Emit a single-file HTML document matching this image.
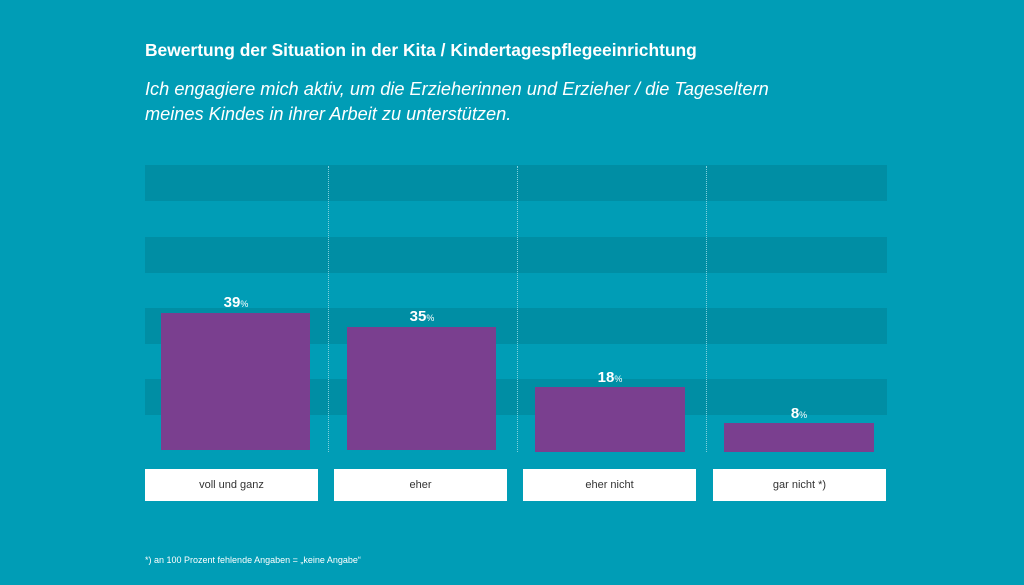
<!DOCTYPE html><html><head><style>
body{margin:0;width:1024px;height:585px;background:#009db6;font-family:"Liberation Sans",sans-serif;position:relative;overflow:hidden;color:#fff}
div{position:absolute}
.band{left:145px;width:742px;height:36px;background:#008ea4}
.bar{background:#7a3f8f}
.dot{top:166px;height:286px;border-left:1px dotted #7fd0dc}
.lab{top:469px;height:32px;width:173px;background:#fff;color:#333;font-size:11px;text-align:center;line-height:32px}
.val{font-weight:bold;font-size:15px;width:150px;text-align:center}
.val span{font-size:9px;font-weight:normal}
</style></head><body>
<div style="left:145px;top:40px;font-size:17.4px;font-weight:bold">Bewertung der Situation in der Kita / Kindertagespflegeeinrichtung</div>
<div style="left:145px;top:77px;font-size:18.2px;font-style:italic;line-height:25px">Ich engagiere mich aktiv, um die Erzieherinnen und Erzieher / die Tageseltern<br>meines Kindes in ihrer Arbeit zu unterstützen.</div>
<div class="band" style="top:165px"></div>
<div class="band" style="top:237px"></div>
<div class="band" style="top:308px"></div>
<div class="band" style="top:379px"></div>
<div class="dot" style="left:328px"></div>
<div class="dot" style="left:517px"></div>
<div class="dot" style="left:706px"></div>
<div class="bar" style="left:161px;top:313px;width:149px;height:137px"></div>
<div class="bar" style="left:347px;top:327px;width:149px;height:123px"></div>
<div class="bar" style="left:535px;top:387px;width:150px;height:65px"></div>
<div class="bar" style="left:724px;top:423px;width:150px;height:29px"></div>
<div class="val" style="left:161px;top:294px">39<span>%</span></div>
<div class="val" style="left:347px;top:308px">35<span>%</span></div>
<div class="val" style="left:535px;top:369px">18<span>%</span></div>
<div class="val" style="left:724px;top:405px">8<span>%</span></div>
<div class="lab" style="left:145px">voll und ganz</div>
<div class="lab" style="left:334px">eher</div>
<div class="lab" style="left:523px">eher nicht</div>
<div class="lab" style="left:713px">gar nicht *)</div>
<div style="left:145px;top:555px;font-size:9px">*) an 100 Prozent fehlende Angaben = „keine Angabe“</div>
</body></html>
